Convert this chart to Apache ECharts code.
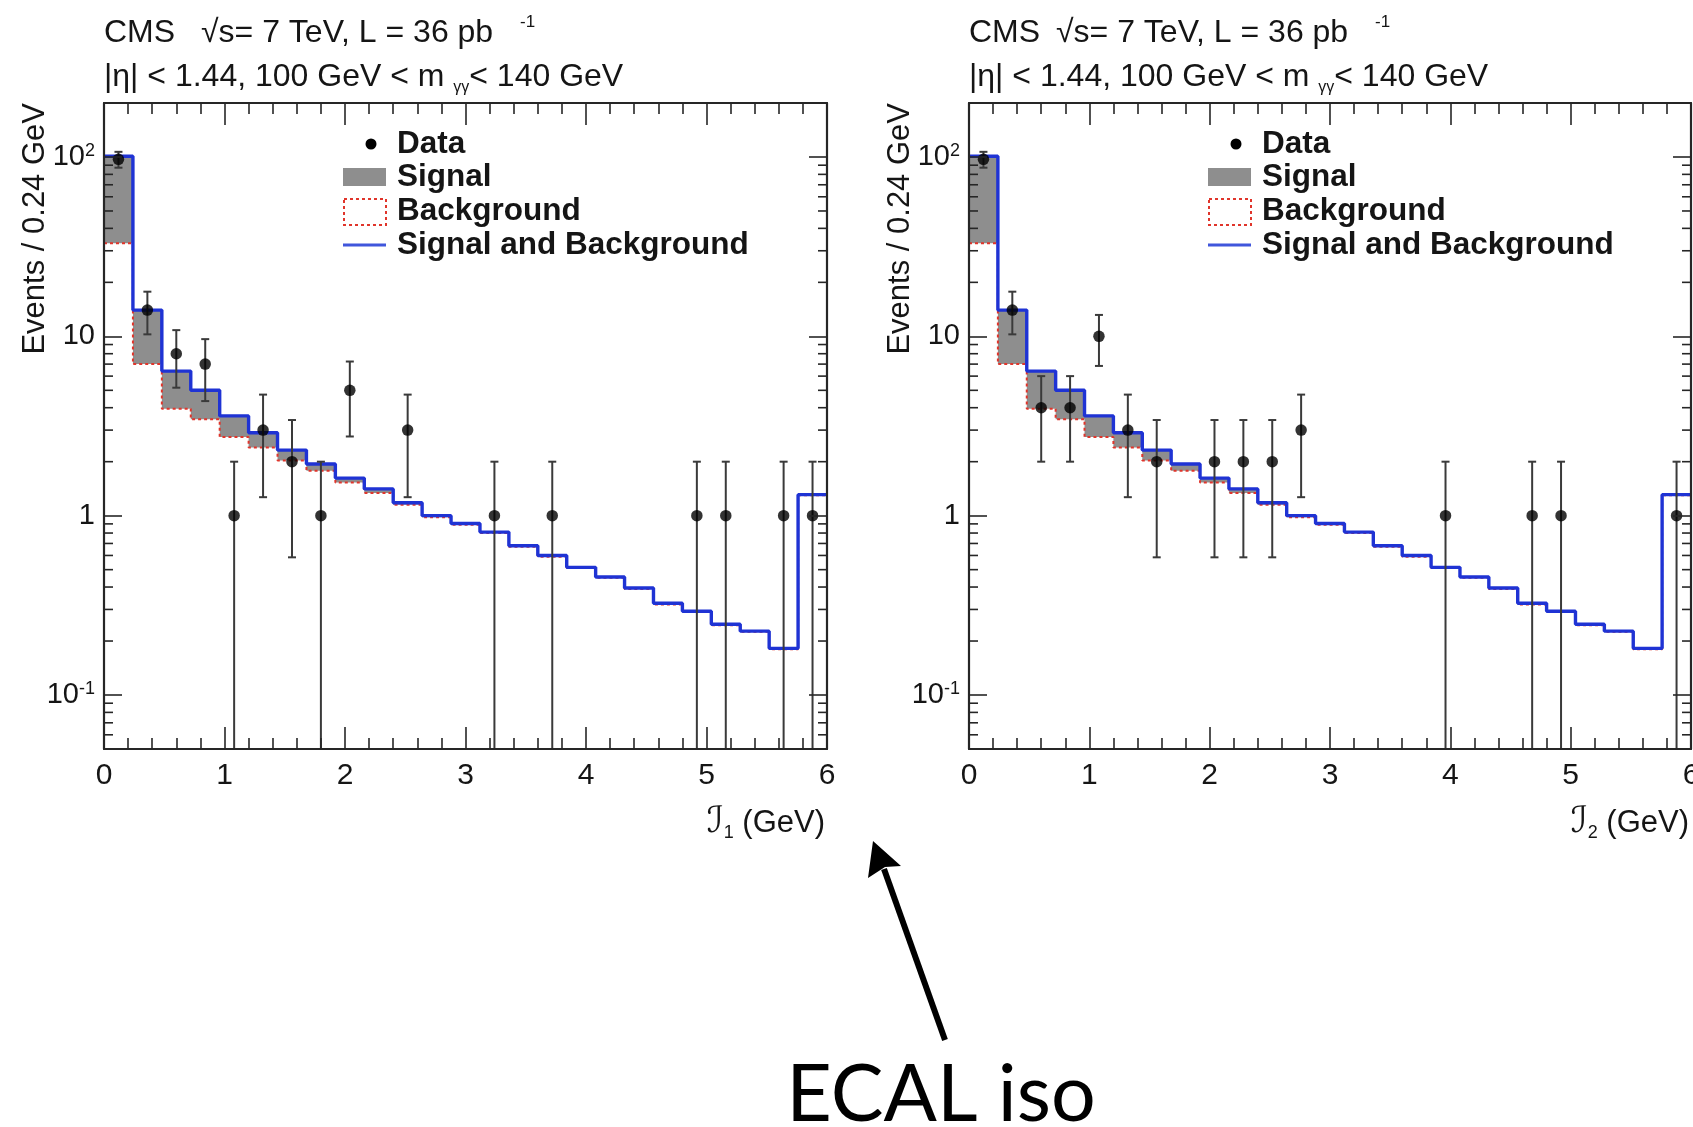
<!DOCTYPE html>
<html><head><meta charset="utf-8">
<script src="https://cdn.jsdelivr.net/npm/echarts@6/dist/echarts.min.js"></script>
<style>html,body{margin:0;padding:0;background:#fff}#c{width:1693px;height:1127px}</style>
</head><body><div id="c"></div>
<script>
// ---------------- DATA ----------------
const binLowEdges = [0, 0.24, 0.48, 0.72, 0.96, 1.20, 1.44, 1.68, 1.92, 2.16, 2.40, 2.64, 2.88, 3.12, 3.36, 3.60, 3.84, 4.08, 4.32, 4.56, 4.80, 5.04, 5.28, 5.52, 5.76];
const binUpperEnd = 6;
const signalAndBackground = [101, 14, 6.4, 5.0, 3.6, 2.9, 2.32, 1.94, 1.62, 1.41, 1.18, 1.0, 0.905, 0.81, 0.68, 0.60, 0.515, 0.455, 0.395, 0.325, 0.293, 0.248, 0.227, 0.182, 1.31];
const background = [33, 7.0, 3.95, 3.45, 2.75, 2.4, 2.03, 1.78, 1.53, 1.34, 1.15, 0.98, 0.89, 0.80, 0.67, 0.59, 0.51, 0.45, 0.39, 0.32, 0.29, 0.245, 0.225, 0.18, 1.30];
const dataX_I1 = [0.12, 0.36, 0.60, 0.84, 1.08, 1.32, 1.56, 1.80, 2.04, 2.52, 3.24, 3.72, 4.92, 5.16, 5.64, 5.88];
const dataN_I1 = [97, 14, 8, 7, 1, 3, 2, 1, 5, 3, 1, 1, 1, 1, 1, 1];
const dataX_I2 = [0.12, 0.36, 0.60, 0.84, 1.08, 1.32, 1.56, 2.04, 2.28, 2.52, 2.76, 3.96, 4.68, 4.92, 5.88];
const dataN_I2 = [97, 14, 4, 4, 10, 3, 2, 2, 2, 2, 3, 1, 1, 1, 1];
const yMinorTickValues = [0.06, 0.07, 0.08, 0.09, 0.2, 0.3, 0.4, 0.5, 0.6, 0.7, 0.8, 0.9, 2, 3, 4, 5, 6, 7, 8, 9, 20, 30, 40, 50, 60, 70, 80, 90];
const X_MIN = 0, X_MAX = 6, Y_MIN = 0.05, Y_MAX = 200;
const xTitles = ['1', '2'];

// ---------------- STYLE ----------------
const FONT = '"Liberation Sans", Arial, Helvetica, sans-serif';
const INK = '#151515';
const FRAME = '#262626';
const GRAY = '#8e8e8e';
const RED = '#e0352b';
const BLUE = '#1f33d4';
const panels = [
  { left: 104, width: 723, dataX: dataX_I1, dataN: dataN_I1, sqrtOffset: 97 },
  { left: 969, width: 722, dataX: dataX_I2, dataN: dataN_I2, sqrtOffset: 87 }
];
const GRID_TOP = 103, GRID_H = 646;

function stepPoints(vals) {
  const pts = binLowEdges.map((e, i) => [e, vals[i]]);
  pts.push([binUpperEnd, vals[vals.length - 1]]);
  return pts;
}
function yLabel(v) {
  const l = Math.log10(v);
  const e = Math.round(l);
  if (Math.abs(l - e) > 1e-6) return '';
  if (e === 0) return '{n|1}';
  if (e === 1) return '{n|10}';
  return '{b|10}{s|' + e + '}';
}
const yRich = {
  n: { fontSize: 29, fontFamily: FONT, color: INK, lineHeight: 29 },
  b: { fontSize: 29, fontFamily: FONT, color: INK, lineHeight: 29, padding: [9, 0, 0, 0], verticalAlign: 'bottom' },
  s: { fontSize: 18, fontFamily: FONT, color: INK, lineHeight: 18, verticalAlign: 'top' }
};

const grids = [], xAxes = [], yAxes = [], series = [];
panels.forEach((p, k) => {
  grids.push({ left: p.left, top: GRID_TOP, width: p.width, height: GRID_H, containLabel: false, outerBoundsMode: 'none' });
  ['bottom', 'top'].forEach(pos => {
    xAxes.push({
      gridIndex: k, type: 'value', position: pos, min: X_MIN, max: X_MAX, interval: 1, z: 10,
      axisLine: { show: true, onZero: false, lineStyle: { color: FRAME, width: 2.2 } },
      axisTick: { show: true, inside: true, length: 22, lineStyle: { color: FRAME, width: 1.6 } },
      minorTick: { show: true, splitNumber: 5, length: 11, lineStyle: { color: FRAME, width: 1.6 } },
      splitLine: { show: false }, minorSplitLine: { show: false },
      axisLabel: { show: pos === 'bottom', fontSize: 30, fontFamily: FONT, color: INK, margin: 12 }
    });
  });
  ['left', 'right'].forEach(pos => {
    yAxes.push({
      gridIndex: k, type: 'log', logBase: 10, position: pos, min: Y_MIN, max: Y_MAX, z: 10,
      axisLine: { show: true, onZero: false, lineStyle: { color: FRAME, width: 2.2 } },
      axisTick: { show: true, inside: true, length: 18, lineStyle: { color: FRAME, width: 1.6 } },
      minorTick: { show: false },
      splitLine: { show: false }, minorSplitLine: { show: false },
      axisLabel: { show: pos === 'left', formatter: yLabel, rich: yRich, margin: 9, showMinLabel: false, showMaxLabel: false }
    });
  });
  const xi = k * 2, yi = k * 2;
  series.push({
    name: 'Signal', type: 'line', xAxisIndex: xi, yAxisIndex: yi, step: 'end', symbol: 'none',
    data: stepPoints(signalAndBackground), lineStyle: { width: 0, opacity: 0 },
    areaStyle: { color: GRAY, opacity: 1, origin: 'start' }, z: 1, silent: true
  });
  series.push({
    name: 'Background', type: 'line', xAxisIndex: xi, yAxisIndex: yi, step: 'end', symbol: 'none',
    data: stepPoints(background), lineStyle: { color: RED, width: 2, type: [3, 3] },
    areaStyle: { color: '#ffffff', opacity: 1, origin: 'start' }, z: 2, silent: true
  });
  series.push({
    name: 'Signal and Background', type: 'line', xAxisIndex: xi, yAxisIndex: yi, step: 'end', symbol: 'none',
    data: stepPoints(signalAndBackground), lineStyle: { color: BLUE, width: 3.4 }, z: 3, silent: true
  });
  const pts = p.dataX.map((x, i) => [x, p.dataN[i]]);
  series.push({
    name: 'Data errors', type: 'custom', xAxisIndex: xi, yAxisIndex: yi, z: 4, silent: true,
    data: pts,
    renderItem(params, api) {
      const x = api.value(0), n = api.value(1);
      const e = Math.sqrt(n);
      const lo = Math.max(n - e, Y_MIN), hi = n + e;
      const a = api.coord([x, hi]), b = api.coord([x, lo]);
      const st = { stroke: '#3a3a3a', lineWidth: 2 };
      const ch = [
        { type: 'line', shape: { x1: a[0], y1: a[1], x2: b[0], y2: b[1] }, style: st },
        { type: 'line', shape: { x1: a[0] - 4, y1: a[1], x2: a[0] + 4, y2: a[1] }, style: st }
      ];
      if (n - e > Y_MIN) ch.push({ type: 'line', shape: { x1: b[0] - 4, y1: b[1], x2: b[0] + 4, y2: b[1] }, style: st });
      return { type: 'group', children: ch };
    }
  });
  series.push({
    name: 'Data', type: 'scatter', xAxisIndex: xi, yAxisIndex: yi, symbol: 'circle', symbolSize: 11.5,
    itemStyle: { color: '#000' }, data: pts, z: 5, silent: true
  });
  series.push({
    name: 'minor log ticks', type: 'custom', xAxisIndex: xi, yAxisIndex: yi, z: 10, silent: true,
    data: yMinorTickValues.map(v => [X_MIN, v]),
    renderItem(params, api) {
      const v = api.value(1);
      const l = api.coord([X_MIN, v]), r = api.coord([X_MAX, v]);
      const st = { stroke: FRAME, lineWidth: 1.6 };
      return { type: 'group', children: [
        { type: 'line', shape: { x1: l[0], y1: l[1], x2: l[0] + 9, y2: l[1] }, style: st },
        { type: 'line', shape: { x1: r[0] - 9, y1: r[1], x2: r[0], y2: r[1] }, style: st }
      ] };
    }
  });
});

// ---------------- TEXT / ANNOTATIONS ----------------
const elements = [];
function T(x, y, text, o) {
  o = o || {};
  const style = Object.assign({
    text, x: 0, y: 0, fill: INK, font: (o.weight || 'normal') + ' ' + (o.size || 32) + 'px ' + (o.family || FONT),
    align: o.align || 'left', verticalAlign: 'middle', textAlign: o.align || 'left', textVerticalAlign: 'middle'
  }, o.style || {});
  elements.push({ type: 'text', x, y, rotation: o.rotation || 0, z: 100, style, silent: true });
}
const hdrRich = {
  n: { fontSize: 32, fontFamily: FONT, fill: INK, lineHeight: 38, verticalAlign: 'middle' },
  s: { fontSize: 17, fontFamily: FONT, fill: INK, lineHeight: 17, verticalAlign: 'top', padding: [0, 0, 0, 18] },
  g: { fontSize: 16, fontFamily: FONT, fill: INK, lineHeight: 16, verticalAlign: 'bottom' }
};
panels.forEach((p, k) => {
  const L = p.left;
  const dx = L - panels[0].left;
  T(L, 33, 'CMS');
  T(L + p.sqrtOffset, 33, '{n|√s= 7 TeV, L = 36 pb }{s|-1}', { style: { rich: hdrRich } });
  T(L, 77, '{n||η| < 1.44, 100 GeV < m }{g|γγ}{n|< 140 GeV}', { style: { rich: hdrRich } });
  T(L - 69, GRID_TOP, 'Events / 0.24 GeV', { size: 31, align: 'right', rotation: Math.PI / 2 });
  T(L + p.width - 2, 823, '{i|ℐ}{u|' + xTitles[k] + '}{n| (GeV)}', { align: 'right', style: { rich: {
    i: { fontSize: 36, fontFamily: '"DejaVu Serif", "DejaVu Sans", serif', fontStyle: 'italic', fill: INK, lineHeight: 38, verticalAlign: 'middle' },
    u: { fontSize: 18, fontFamily: FONT, fill: INK, lineHeight: 18, verticalAlign: 'bottom' },
    n: { fontSize: 31, fontFamily: FONT, fill: INK, lineHeight: 38, verticalAlign: 'middle' }
  } } });
  // legend
  elements.push({ type: 'circle', shape: { cx: 371 + dx, cy: 144, r: 5.5 }, style: { fill: '#000' }, z: 100, silent: true });
  elements.push({ type: 'rect', shape: { x: 343 + dx, y: 168, width: 43, height: 18 }, style: { fill: GRAY }, z: 100, silent: true });
  elements.push({ type: 'rect', shape: { x: 344 + dx, y: 199, width: 42, height: 26 }, style: { fill: '#fff', stroke: RED, lineWidth: 2, lineDash: [3, 3] }, z: 100, silent: true });
  elements.push({ type: 'line', shape: { x1: 343 + dx, y1: 245, x2: 386 + dx, y2: 245 }, style: { stroke: '#4056dc', lineWidth: 3 }, z: 100, silent: true });
  [['Data', 144], ['Signal', 177], ['Background', 211], ['Signal and Background', 245]].forEach(([t, y]) => {
    T(397 + dx, y, t, { size: 31.5, weight: 'bold' });
  });
});
// arrow + caption
elements.push({ type: 'polyline', shape: { points: [[884, 869], [945, 1040]] }, style: { stroke: '#000', lineWidth: 6, fill: null }, z: 100, silent: true });
elements.push({ type: 'polygon', shape: { points: [[873, 841], [901, 866], [885, 867], [868, 878]] }, style: { fill: '#000' }, z: 100, silent: true });
T(941, 1096, 'ECAL iso', { size: 79, family: 'Lato, "Open Sans", sans-serif', align: 'center', style: { fill: '#000' } });

const chart = echarts.init(document.getElementById('c'), null, { renderer: 'canvas' });
chart.setOption({
  animation: false,
  backgroundColor: '#ffffff',
  grid: grids, xAxis: xAxes, yAxis: yAxes, series,
  graphic: { elements }
});
</script>
</body></html>
